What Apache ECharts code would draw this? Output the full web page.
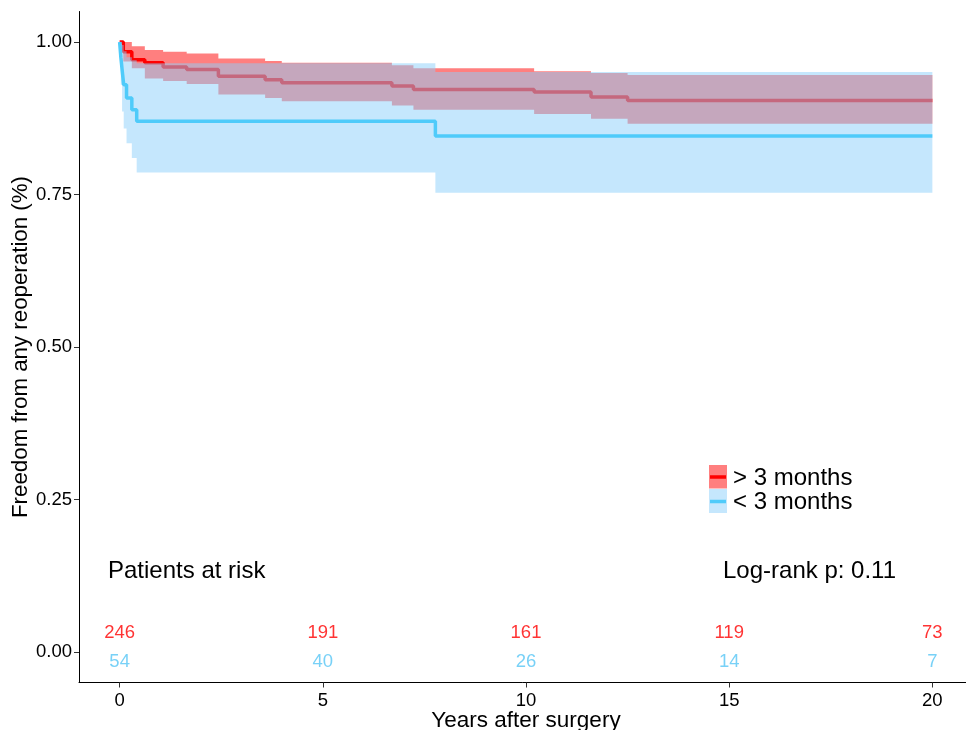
<!DOCTYPE html>
<html><head><meta charset="utf-8">
<script src="https://cdn.jsdelivr.net/npm/echarts@6/dist/echarts.min.js"></script>
<style>html,body{margin:0;padding:0;background:#fff}#c{width:966px;height:730px}</style>
</head><body><div id="c"></div>
<script>
// > 3 months group (red)
const timesGt3 = [0, 0.09, 0.3, 0.62, 1.07, 1.65, 2.43, 3.58, 3.99, 6.70, 7.23, 10.2, 11.6, 12.5, 20];
const survGt3  = [1.0, 0.984, 0.971, 0.966, 0.959, 0.955, 0.944, 0.938, 0.933, 0.928, 0.922, 0.918, 0.910, 0.904, 0.904];
const upperGt3 = [1.0, 1.0, 0.993, 0.987, 0.984, 0.981, 0.973, 0.969, 0.966, 0.962, 0.957, 0.952, 0.949, 0.946, 0.946];
const lowerGt3 = [1.0, 0.968, 0.957, 0.940, 0.936, 0.931, 0.914, 0.908, 0.903, 0.896, 0.889, 0.882, 0.874, 0.866, 0.866];
// < 3 months group (blue)
const timesLt3 = [0, 0.03, 0.06, 0.1, 0.17, 0.3, 0.42, 7.77, 20];
const survLt3  = [1.0, 0.975, 0.955, 0.930, 0.908, 0.889, 0.870, 0.846, 0.846];
const upperLt3 = [1.0, 1.0, 0.995, 0.985, 0.975, 0.970, 0.965, 0.951, 0.951];
const lowerLt3 = [1.0, 0.93, 0.886, 0.858, 0.834, 0.810, 0.786, 0.753, 0.753];
// risk table
const riskTimes = [0, 5, 10, 15, 20];
const riskGt3 = [246, 191, 161, 119, 73];
const riskLt3 = [54, 40, 26, 14, 7];
const xTicks = [0, 5, 10, 15, 20];
const yTicks = [0, 0.25, 0.5, 0.75, 1.0];
const groupNames = ['> 3 months', '< 3 months'];
const pValueText = 'Log-rank p: 0.11';

const RED = '#FF0000', BLUE = '#4FCBFA';
const RED_FILL = 'rgba(255,0,0,0.5)', BLUE_FILL = 'rgba(140,208,252,0.5)';
const FONT = '"Liberation Sans", Arial, sans-serif';

const pts = (t, v) => t.map((x, i) => [x, v[i]]);

// confidence band as one step polygon, positioned through the axis scales
function band(name, t, lo, up, color, z) {
  return {
    type: 'custom', name: name, silent: true, clip: true, z: z,
    data: t.map((x, i) => [x, lo[i], up[i]]),
    encode: { x: 0, y: [1, 2] },
    renderItem: function (params, api) {
      if (params.dataIndex !== 0) return null;
      const n = t.length;
      const top = [], bot = [];
      for (let i = 0; i < n; i++) {
        const x0 = api.value(0, i), x1 = i < n - 1 ? api.value(0, i + 1) : x0;
        const l = api.value(1, i), u = api.value(2, i);
        top.push(api.coord([x0, u]), api.coord([x1, u]));
        bot.push(api.coord([x0, l]), api.coord([x1, l]));
      }
      const points = top.concat(bot.reverse());
      return { type: 'polygon', shape: { points: points }, style: { fill: color, stroke: null } };
    }
  };
}

const chart = echarts.init(document.getElementById('c'), null, { renderer: 'canvas' });
chart.setOption({
  animation: false,
  backgroundColor: '#fff',
  grid: { left: 79, top: 11.5, width: 894, height: 671, containLabel: false, outerBoundsMode: 'none' },
  xAxis: {
    type: 'value', min: -1, max: 21,
    name: 'Years after surgery', nameLocation: 'middle', nameGap: 27, nameMoveOverlap: false,
    nameTextStyle: { fontFamily: FONT, fontSize: 22.5, color: '#000', verticalAlign: 'top' },
    axisLine: { show: true, onZero: false, lineStyle: { color: '#000', width: 1 } },
    axisTick: { show: true, length: 5, lineStyle: { color: '#333' }, customValues: xTicks },
    axisLabel: { fontFamily: FONT, fontSize: 18.5, color: '#000', margin: 9, customValues: xTicks },
    splitLine: { show: false }
  },
  yAxis: {
    type: 'value', min: -0.05, max: 1.05,
    name: 'Freedom from any reoperation (%)', nameLocation: 'middle', nameGap: 47, nameMoveOverlap: false,
    nameTextStyle: { fontFamily: FONT, fontSize: 22.3, color: '#000' },
    axisLine: { show: true, onZero: false, lineStyle: { color: '#000', width: 1 } },
    axisTick: { show: true, length: 5, lineStyle: { color: '#333' }, customValues: yTicks },
    axisLabel: { fontFamily: FONT, fontSize: 18.5, color: '#000', margin: 7, customValues: yTicks,
      formatter: v => v.toFixed(2) },
    splitLine: { show: false }
  },
  series: [
    { type: 'line', name: groupNames[0], step: 'end', data: pts(timesGt3, survGt3), symbol: 'none', z: 2,
      lineStyle: { color: RED, width: 3.5 } },
    band('gt3 CI', timesGt3, lowerGt3, upperGt3, RED_FILL, 3),
    band('lt3 CI', timesLt3, lowerLt3, upperLt3, BLUE_FILL, 4),
    { type: 'line', name: groupNames[1], step: 'end', data: pts(timesLt3, survLt3), symbol: 'none', z: 5,
      lineStyle: { color: BLUE, width: 3.5 } },
    { type: 'scatter', name: 'risk gt3', data: riskTimes.map((t, i) => [t, 0.031, riskGt3[i]]), z: 6,
      symbolSize: 1, itemStyle: { color: 'rgba(0,0,0,0)' }, silent: true,
      label: { show: true, position: 'inside', formatter: p => String(p.value[2]),
        fontFamily: FONT, fontSize: 18.5, color: RED } },
    { type: 'scatter', name: 'risk lt3', data: riskTimes.map((t, i) => [t, -0.0155, riskLt3[i]]), z: 6,
      symbolSize: 1, itemStyle: { color: 'rgba(0,0,0,0)' }, silent: true,
      label: { show: true, position: 'inside', formatter: p => String(p.value[2]),
        fontFamily: FONT, fontSize: 18.5, color: '#56C5F5' } }
  ],
  graphic: [
    { type: 'text', left: 108, top: 559, style: { text: 'Patients at risk', font: '24px ' + FONT, fill: '#000' } },
    { type: 'text', left: 723, top: 559, style: { text: pValueText, font: '24px ' + FONT, fill: '#000' } },
    { type: 'rect', shape: { x: 709, y: 465, width: 18, height: 23.5 }, style: { fill: RED_FILL } },
    { type: 'line', shape: { x1: 710, y1: 477, x2: 726, y2: 477 }, style: { stroke: RED, lineWidth: 3.5 } },
    { type: 'rect', shape: { x: 709, y: 489, width: 18, height: 24 }, style: { fill: BLUE_FILL } },
    { type: 'line', shape: { x1: 710, y1: 501.5, x2: 726, y2: 501.5 }, style: { stroke: BLUE, lineWidth: 3.5 } },
    { type: 'text', left: 733, top: 466, style: { text: groupNames[0], font: '24px ' + FONT, fill: '#000' } },
    { type: 'text', left: 733, top: 490, style: { text: groupNames[1], font: '24px ' + FONT, fill: '#000' } }
  ]
});
</script>
</body></html>
